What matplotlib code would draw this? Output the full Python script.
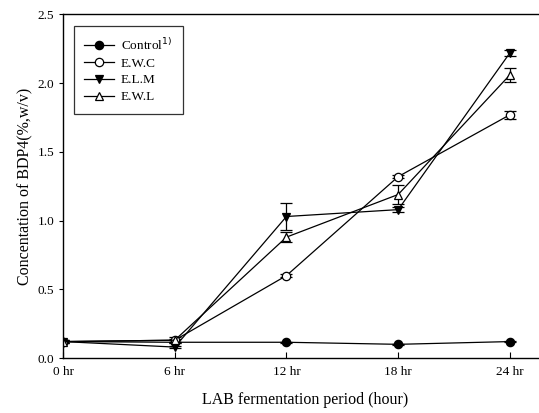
import numpy as np
import matplotlib
matplotlib.use("Agg")
import matplotlib.pyplot as plt
from matplotlib.lines import Line2D

plt.rcParams['font.family'] = ['Liberation Serif', 'DejaVu Serif']

hours = [0, 6, 12, 18, 24]
tick_labels = ['0 hr', '6 hr', '12 hr', '18 hr', '24 hr']

control = [0.12, 0.115, 0.115, 0.10, 0.12]
control_err = [0.005, 0.005, 0.005, 0.005, 0.005]
ewc = [0.12, 0.13, 0.60, 1.32, 1.77]
ewc_err = [0.01, 0.01, 0.01, 0.01, 0.03]
elm = [0.12, 0.08, 1.03, 1.08, 2.22]
elm_err = [0.01, 0.01, 0.10, 0.02, 0.02]
ewl = [0.12, 0.13, 0.88, 1.19, 2.06]
ewl_err = [0.01, 0.02, 0.035, 0.07, 0.05]

fig = plt.figure(figsize=(5.39, 4.13), dpi=100)
ax = fig.add_axes([0.117, 0.133, 0.898, 0.832])

series = [
    (control, control_err, 'o', 'black', r'Control$^{1)}$'),
    (ewc, ewc_err, 'o', 'white', 'E.W.C'),
    (elm, elm_err, 'v', 'black', 'E.L.M'),
    (ewl, ewl_err, '^', 'white', 'E.W.L'),
]
handles = []
for vals, err, m, fc, lab in series:
    ax.errorbar(hours, vals, yerr=err, color='black', lw=0.9, marker=m,
                markersize=6, markerfacecolor=fc, markeredgecolor='black',
                markeredgewidth=0.9, capsize=4, elinewidth=0.9)
    handles.append(Line2D([], [], color='black', lw=0.9, marker=m, markersize=6,
                          markerfacecolor=fc, markeredgecolor='black',
                          markeredgewidth=0.9, label=lab))

ax.set_xlim(0, 26)
ax.set_ylim(0, 2.5)
ax.set_xticks(hours)
ax.set_xticklabels(tick_labels)
ax.set_yticks([0, 0.5, 1.0, 1.5, 2.0, 2.5])
ax.set_yticklabels(['0.0', '0.5', '1.0', '1.5', '2.0', '2.5'])
ax.tick_params(axis='x', direction='in', length=4, labelsize=9.5, pad=6)
ax.tick_params(axis='y', direction='out', length=3, labelsize=9.5)
for s in ax.spines.values():
    s.set_linewidth(1.0)

ax.set_xlabel('LAB fermentation period (hour)', fontsize=11.5, labelpad=10)
ax.set_ylabel('Concentation of BDP4(%,w/v)', fontsize=11.5, labelpad=3)

leg = ax.legend(handles=handles, loc='upper left', bbox_to_anchor=(0.008, 0.985),
                fontsize=9.5, frameon=True, fancybox=False, edgecolor='black',
                handlelength=2.3, handletextpad=0.5, borderpad=0.8,
                labelspacing=0.35)
leg.get_frame().set_linewidth(0.9)

fig.savefig('out.png', dpi=100)
